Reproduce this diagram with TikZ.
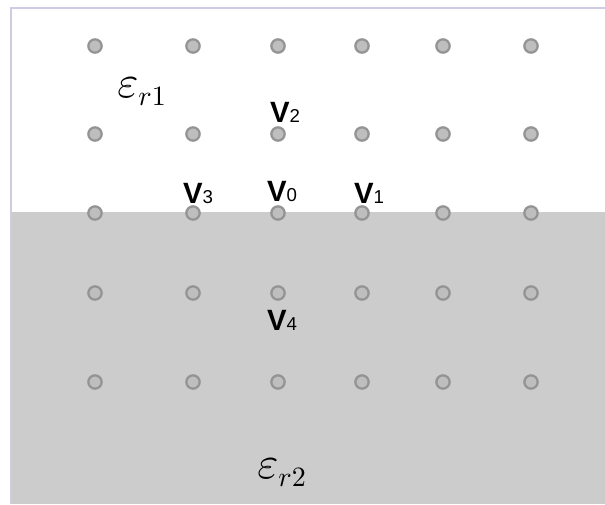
\documentclass[tikz,border=0pt]{standalone}
\usepackage{fontspec}
\newfontfamily\labfont{Liberation Sans}
\usetikzlibrary{positioning}

\definecolor{lowgray}{HTML}{CCCCCC}
\definecolor{dotring}{HTML}{949494}
\definecolor{dotfill}{HTML}{BEBEBE}
\definecolor{edgeline}{HTML}{D2CAE2}

\tikzset{
  gridpt/.style={circle,draw=dotring,fill=dotfill,line width=1.7pt,inner sep=0pt,minimum size=10pt},
  vlab/.style={inner sep=0pt,anchor=base,font=\labfont\fontsize{22}{22}\selectfont\bfseries},
  epslab/.style={inner sep=0pt,anchor=base west}
}
\newcommand{\vsub}[1]{V{\mdseries\fontsize{14}{14}\selectfont #1}}
\newcommand{\epsr}[1]{\scalebox{3.4}{$\varepsilon$}\raisebox{-6pt}{\scalebox{2.1}{$r#1$}}}

\begin{document}
\begin{tikzpicture}[x=0.75pt,y=-0.75pt]
  \useasboundingbox (0,0) rectangle (605,504);
  \fill[white] (0,0) rectangle (605,504);
  \fill[lowgray] (11,212) rectangle (605,504);
  \draw[edgeline,line width=1.6pt] (11,504) -- (11,8) -- (605,8);

  % grid of points
  \foreach \c/\x in {1/95,2/193,3/278,4/362,5/443,6/531}
    \foreach \r/\y in {1/46,2/134,3/213,4/293,5/382}
      \node[gridpt] (p\c\r) at (\x,\y) {};

  \node[vlab] (v2) at (285,122) {\vsub{2}};
  \node[vlab] (v3) at (198,203) {\vsub{3}};
  \node[vlab] (v0) at (282,201) {\vsub{0}};
  \node[vlab] (v1) at (369,203) {\vsub{1}};
  \node[vlab] (v4) at (282,330) {\vsub{4}};

  \node[epslab] (er1) at (117,97) {\epsr{1}};
  \node[epslab] (er2) at (257,478) {\epsr{2}};
\end{tikzpicture}
\end{document}
